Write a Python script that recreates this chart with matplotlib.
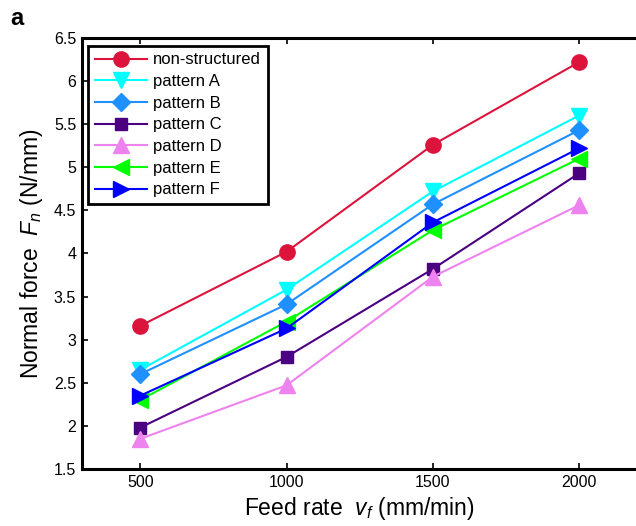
import matplotlib
matplotlib.use('Agg')
import matplotlib.pyplot as plt

plt.rcParams['font.family'] = ['Liberation Sans', 'DejaVu Sans']
plt.rcParams['mathtext.fontset'] = 'custom'
plt.rcParams['mathtext.rm'] = 'Liberation Sans'
plt.rcParams['mathtext.it'] = 'Liberation Sans:italic'

feed_rate = [500, 1000, 1500, 2000]
non_structured = [3.16, 4.02, 5.26, 6.22]
pattern_a = [2.65, 3.58, 4.72, 5.60]
pattern_b = [2.60, 3.41, 4.57, 5.43]
pattern_c = [1.98, 2.80, 3.82, 4.93]
pattern_d = [1.85, 2.47, 3.73, 4.56]
pattern_e = [2.30, 3.21, 4.27, 5.10]
pattern_f = [2.35, 3.13, 4.36, 5.22]

series = [
    ('non-structured', non_structured, '#DC143C', 'o'),
    ('pattern A', pattern_a, '#00FFFF', 'v'),
    ('pattern B', pattern_b, '#1E90FF', 'D'),
    ('pattern C', pattern_c, '#4B0082', 's'),
    ('pattern D', pattern_d, '#EE82EE', '^'),
    ('pattern E', pattern_e, '#00FF00', '<'),
    ('pattern F', pattern_f, '#0000FF', '>'),
]

fig = plt.figure(figsize=(6.36, 5.26), dpi=100)
ax = fig.add_axes([0.1285, 0.1084, 0.874, 0.8194])

for name, vals, col, mk in series:
    ms = 11
    if mk in ('D', 's'):
        ms = 9
    ax.plot(feed_rate, vals, color=col, marker=mk, markersize=ms,
            linewidth=1.5, label=name)

ax.set_xlim(300, 2200)
ax.set_ylim(1.5, 6.5)
ax.set_xticks(feed_rate)
ax.set_yticks([1.5, 2, 2.5, 3, 3.5, 4, 4.5, 5, 5.5, 6, 6.5])
ax.set_yticklabels(['1.5', '2', '2.5', '3', '3.5', '4', '4.5', '5', '5.5', '6', '6.5'])
ax.tick_params(direction='in', length=4.5, width=1.2, labelsize=11.5, pad=4,
               top=True)
for s in ['left', 'bottom', 'top']:
    ax.spines[s].set_linewidth(2.2)
ax.spines['right'].set_visible(False)

ax.set_xlabel('Feed rate  $v_f$ (mm/min)', fontsize=16.5, labelpad=4)
ax.set_ylabel('Normal force  $F_n$ (N/mm)', fontsize=16.5, labelpad=6)

leg = ax.legend(loc='upper left', bbox_to_anchor=(0.012, 0.982), borderaxespad=0,
                fontsize=12, fancybox=False, framealpha=1, edgecolor='black',
                handlelength=3.1, handletextpad=0.4, labelspacing=0.4,
                borderpad=0.4)
leg.get_frame().set_linewidth(2)

fig.text(0.016, 0.965, 'a', fontsize=17, fontweight='bold', va='center')

fig.savefig('out.png', dpi=100)
